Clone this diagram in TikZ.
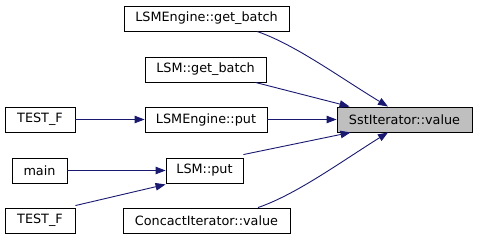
\documentclass[tikz,border=0pt]{standalone}
\usepackage{fontspec}
\setmainfont{DejaVu Sans}
\usetikzlibrary{arrows.meta}
\definecolor{edgeblue}{HTML}{191970}
\definecolor{focusgray}{HTML}{BFBFBF}
\begin{document}
\begin{tikzpicture}[x=1pt,y=-1pt,
  fn/.style={draw=black, line width=0.9pt, fill=white, inner sep=0pt,
    minimum height=25pt, font=\fontsize{12.8}{14}\selectfont},
  focus/.style={fn, fill=focusgray},
  call/.style={draw=edgeblue, line width=0.9pt,
    -{Triangle[length=10pt,width=7.5pt]}, edgeblue}]
\useasboundingbox (0,0) rectangle (477,240);

% callee
\node[focus, minimum width=135pt] (sst) at (404.5,119.5) {SstIterator::value};

% direct callers
\node[fn, minimum width=165pt] (engget) at (206.5,18.5) {LSMEngine::get\_batch};
\node[fn, minimum width=121pt] (lsmget) at (205.5,69.5) {LSM::get\_batch};
\node[fn, minimum width=122pt] (engput) at (206,119.5) {LSMEngine::put};
\node[fn, minimum width=77pt]  (lsmput) at (204.5,170.5) {LSM::put};
\node[fn, minimum width=167pt] (concat) at (206.5,220.5) {ConcactIterator::value};

% second-level callers
\node[fn, minimum width=70pt] (testa) at (40,119.5) {TEST\_F};
\node[fn, minimum width=55pt] (mainf) at (39.5,170.5) {main};
\node[fn, minimum width=70pt] (testb) at (40,220.5) {TEST\_F};

% call edges into SstIterator::value
\draw[call] ([xshift=50.5pt]engget.south)
  .. controls +(38,13) and +(-48,-29) .. ([xshift=-16.5pt]sst.north);
\draw[call] ([xshift=-11pt]lsmget.south east) -- ([xshift=13pt]sst.north west);
\draw[call] (engput) -- (sst);
\draw[call] ([yshift=3pt]lsmput.north east) -- ([xshift=14pt]sst.south west);
\draw[call] ([xshift=51.5pt]concat.north)
  .. controls +(38,-13) and +(-48,30) .. ([xshift=-16.5pt]sst.south);

% call edges into the callers
\draw[call] (testa) -- (engput);
\draw[call] (mainf) -- (lsmput);
\draw[call] ([yshift=2pt]testb.north east) -- ([yshift=-1pt]lsmput.south west);
\end{tikzpicture}
\end{document}
